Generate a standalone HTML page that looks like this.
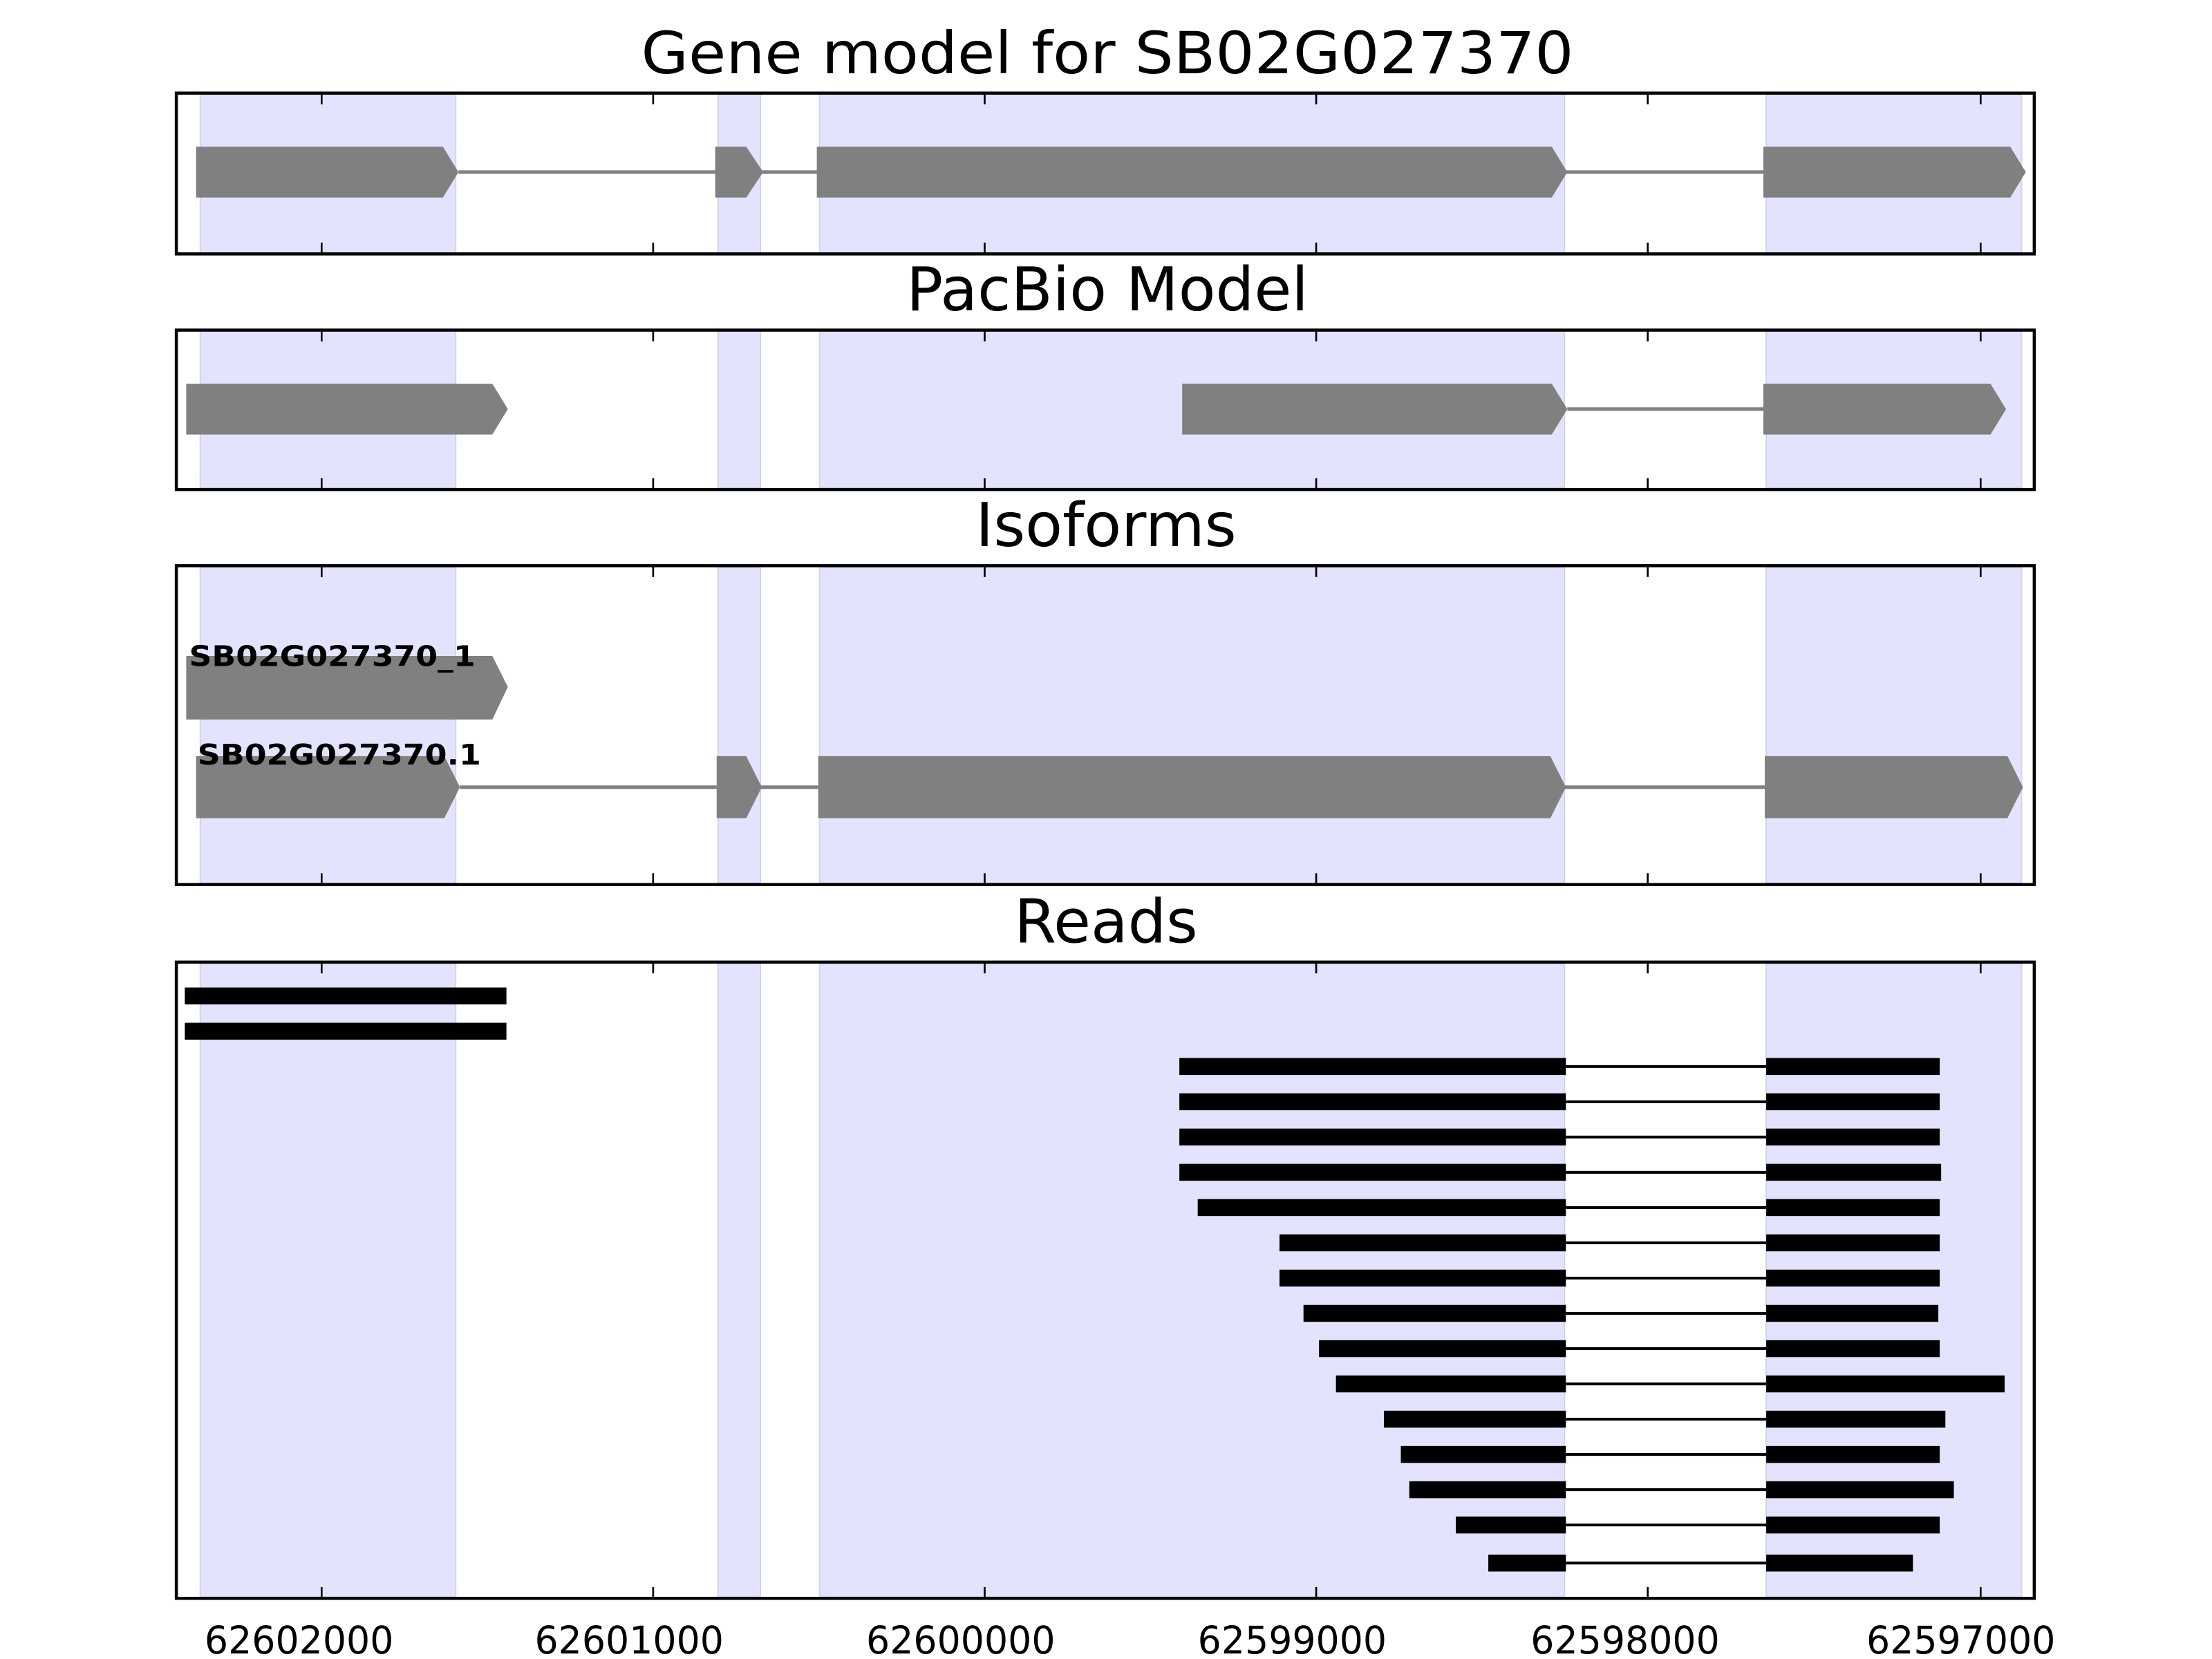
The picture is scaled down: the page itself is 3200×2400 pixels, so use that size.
<!DOCTYPE html>
<html><head><meta charset="utf-8"><style>
html,body{margin:0;padding:0;background:#fff;}
svg{display:block;}
text{font-family:"DejaVu Sans","Liberation Sans",sans-serif;}
</style></head><body>
<svg width="3200" height="2400" viewBox="0 0 1568 1176" xmlns="http://www.w3.org/2000/svg">
<!-- titles -->
<text x="785" y="52" font-size="41" text-anchor="middle" textLength="661" lengthAdjust="spacingAndGlyphs">Gene model for SB02G027370</text>
<text x="785" y="220" font-size="43" text-anchor="middle" textLength="285" lengthAdjust="spacingAndGlyphs">PacBio Model</text>
<text x="784" y="387" font-size="43" text-anchor="middle" textLength="185" lengthAdjust="spacingAndGlyphs">Isoforms</text>
<text x="784" y="668" font-size="43" text-anchor="middle" textLength="130" lengthAdjust="spacingAndGlyphs">Reads</text>

<g fill="#e3e3fd" stroke="#d3d3ec" stroke-width="1">
<rect x="142" y="67" width="181" height="112"/><rect x="509" y="67" width="30" height="112"/><rect x="581" y="67" width="528" height="112"/><rect x="1252" y="67" width="181" height="112"/>
<rect x="142" y="235" width="181" height="111"/><rect x="509" y="235" width="30" height="111"/><rect x="581" y="235" width="528" height="111"/><rect x="1252" y="235" width="181" height="111"/>
<rect x="142" y="402" width="181" height="224"/><rect x="509" y="402" width="30" height="224"/><rect x="581" y="402" width="528" height="224"/><rect x="1252" y="402" width="181" height="224"/>
<rect x="142" y="683" width="181" height="449"/><rect x="509" y="683" width="30" height="449"/><rect x="581" y="683" width="528" height="449"/><rect x="1252" y="683" width="181" height="449"/>
</g>

<g fill="#808080">
<line x1="325" y1="122" x2="1250" y2="122" stroke="#808080" stroke-width="2.5"/>
<polygon points="139,104 314,104 325,122 314,140 139,140"/>
<polygon points="507,104 529,104 541,122 529,140 507,140"/>
<polygon points="579,104 1100,104 1111,122 1100,140 579,140"/>
<polygon points="1250,104 1425,104 1436,122 1425,140 1250,140"/>
</g>
<g fill="#808080">
<line x1="1111" y1="290" x2="1250" y2="290" stroke="#808080" stroke-width="2.5"/>
<polygon points="132,272 349,272 360,290 349,308 132,308"/>
<polygon points="838,272 1100,272 1111,290 1100,308 838,308"/>
<polygon points="1250,272 1411,272 1422,290 1411,308 1250,308"/>
</g>
<g fill="#808080">
<polygon points="132,465 349,465 360,487 349,510 132,510"/>
<line x1="326" y1="558" x2="1251" y2="558" stroke="#808080" stroke-width="2.5"/>
<polygon points="139,536 315,536 326,558 315,580 139,580"/>
<polygon points="508,536 529,536 540,558 529,580 508,580"/>
<polygon points="580,536 1099,536 1110,558 1099,580 580,580"/>
<polygon points="1251,536 1423,536 1434,558 1423,580 1251,580"/>
</g>
<text x="134" y="472" font-size="20" font-weight="bold" textLength="203" lengthAdjust="spacingAndGlyphs">SB02G027370_1</text>
<text x="140" y="542" font-size="20" font-weight="bold" textLength="201" lengthAdjust="spacingAndGlyphs">SB02G027370.1</text>

<g fill="#000">
<rect x="131" y="700" width="228" height="12"/>
<rect x="131" y="725" width="228" height="12"/>
</g>
<g fill="#000" stroke="#000">
<g stroke-width="2">
<line x1="1110" y1="756" x2="1252" y2="756"/><line x1="1110" y1="781" x2="1252" y2="781"/><line x1="1110" y1="806" x2="1252" y2="806"/><line x1="1110" y1="831" x2="1252" y2="831"/><line x1="1110" y1="856" x2="1252" y2="856"/><line x1="1110" y1="881" x2="1252" y2="881"/><line x1="1110" y1="906" x2="1252" y2="906"/><line x1="1110" y1="931" x2="1252" y2="931"/><line x1="1110" y1="956" x2="1252" y2="956"/><line x1="1110" y1="981" x2="1252" y2="981"/><line x1="1110" y1="1006" x2="1252" y2="1006"/><line x1="1110" y1="1031" x2="1252" y2="1031"/><line x1="1110" y1="1056" x2="1252" y2="1056"/><line x1="1110" y1="1081" x2="1252" y2="1081"/><line x1="1110" y1="1108" x2="1252" y2="1108"/>
</g>
<g stroke="none">
<rect x="836" y="750" width="274" height="12"/><rect x="1252" y="750" width="123" height="12"/>
<rect x="836" y="775" width="274" height="12"/><rect x="1252" y="775" width="123" height="12"/>
<rect x="836" y="800" width="274" height="12"/><rect x="1252" y="800" width="123" height="12"/>
<rect x="836" y="825" width="274" height="12"/><rect x="1252" y="825" width="124" height="12"/>
<rect x="849" y="850" width="261" height="12"/><rect x="1252" y="850" width="123" height="12"/>
<rect x="907" y="875" width="203" height="12"/><rect x="1252" y="875" width="123" height="12"/>
<rect x="907" y="900" width="203" height="12"/><rect x="1252" y="900" width="123" height="12"/>
<rect x="924" y="925" width="186" height="12"/><rect x="1252" y="925" width="122" height="12"/>
<rect x="935" y="950" width="175" height="12"/><rect x="1252" y="950" width="123" height="12"/>
<rect x="947" y="975" width="163" height="12"/><rect x="1252" y="975" width="169" height="12"/>
<rect x="981" y="1000" width="129" height="12"/><rect x="1252" y="1000" width="127" height="12"/>
<rect x="993" y="1025" width="117" height="12"/><rect x="1252" y="1025" width="123" height="12"/>
<rect x="999" y="1050" width="111" height="12"/><rect x="1252" y="1050" width="133" height="12"/>
<rect x="1032" y="1075" width="78" height="12"/><rect x="1252" y="1075" width="123" height="12"/>
<rect x="1055" y="1102" width="55" height="12"/><rect x="1252" y="1102" width="104" height="12"/>
</g>
</g>

<g fill="none" stroke="#000" stroke-width="2.2">
<rect x="125" y="66" width="1317" height="114"/>
<rect x="125" y="234" width="1317" height="113"/>
<rect x="125" y="401" width="1317" height="226"/>
<rect x="125" y="682" width="1317" height="451"/>
</g>
<g stroke="#000" stroke-width="1.3">
<path d="M228 66v8M463 66v8M698 66v8M933 66v8M1168 66v8M1404 66v8 M228 180v-8M463 180v-8M698 180v-8M933 180v-8M1168 180v-8M1404 180v-8"/>
<path d="M228 234v8M463 234v8M698 234v8M933 234v8M1168 234v8M1404 234v8 M228 347v-8M463 347v-8M698 347v-8M933 347v-8M1168 347v-8M1404 347v-8"/>
<path d="M228 401v8M463 401v8M698 401v8M933 401v8M1168 401v8M1404 401v8 M228 627v-8M463 627v-8M698 627v-8M933 627v-8M1168 627v-8M1404 627v-8"/>
<path d="M228 682v8M463 682v8M698 682v8M933 682v8M1168 682v8M1404 682v8 M228 1133v-8M463 1133v-8M698 1133v-8M933 1133v-8M1168 1133v-8M1404 1133v-8"/>
</g>
<g font-size="27" text-anchor="middle">
<text x="212" y="1172" textLength="134" lengthAdjust="spacingAndGlyphs">62602000</text>
<text x="446" y="1172" textLength="134" lengthAdjust="spacingAndGlyphs">62601000</text>
<text x="681" y="1172" textLength="134" lengthAdjust="spacingAndGlyphs">62600000</text>
<text x="916" y="1172" textLength="134" lengthAdjust="spacingAndGlyphs">62599000</text>
<text x="1152" y="1172" textLength="134" lengthAdjust="spacingAndGlyphs">62598000</text>
<text x="1390" y="1172" textLength="134" lengthAdjust="spacingAndGlyphs">62597000</text>
</g>
</svg>
</body></html>
